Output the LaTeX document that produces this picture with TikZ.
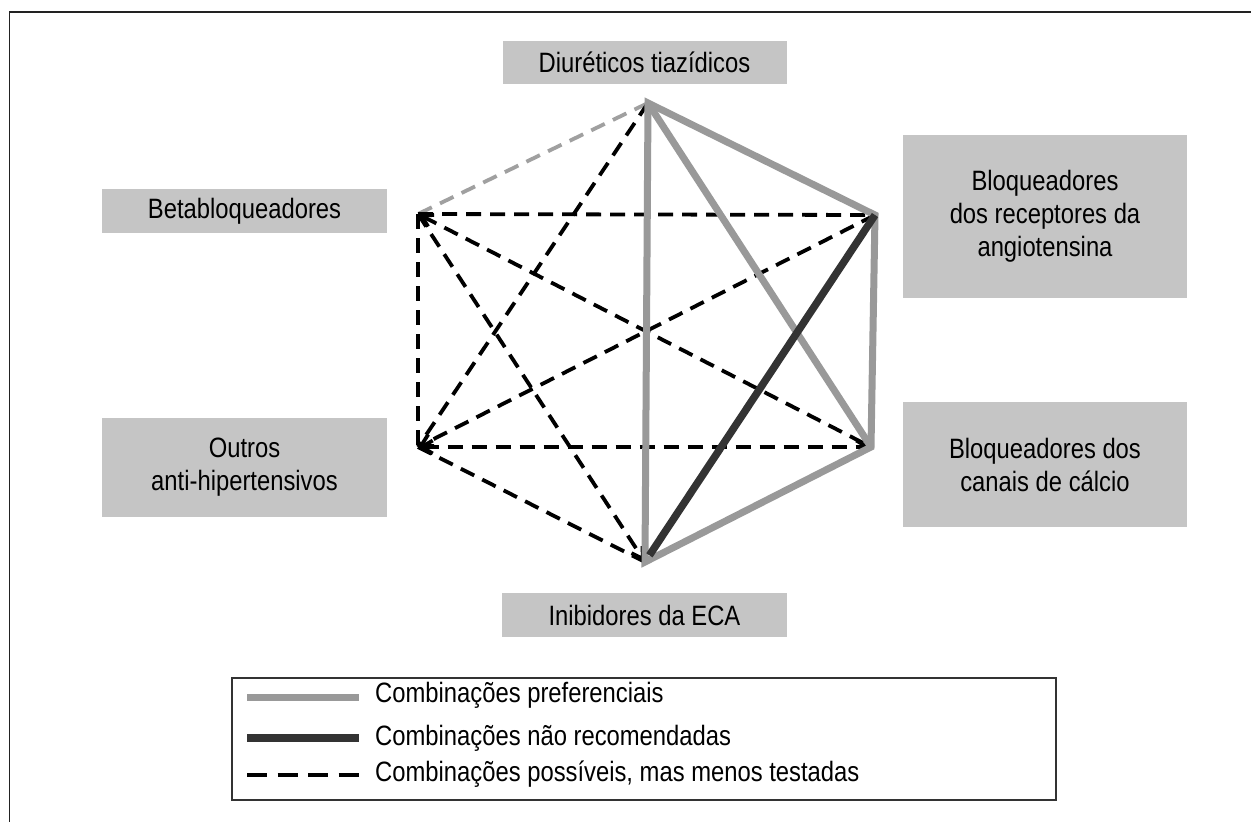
\documentclass[tikz,border=0pt]{standalone}
\usepackage{fontspec}
\setmainfont{Liberation Sans}
\newfontfamily\narrowfont{Liberation Sans}[FakeStretch=0.85]
\usetikzlibrary{arrows.meta}
\definecolor{boxgray}{HTML}{C5C5C5}
\definecolor{prefgray}{HTML}{999999}
\definecolor{darkline}{HTML}{333333}
\definecolor{dashgray}{HTML}{A0A0A0}
\definecolor{framec}{HTML}{222222}
\begin{document}
\begin{tikzpicture}[x=1pt,y=-1pt,
  box/.style={fill=boxgray, inner sep=0pt, align=center, font=\narrowfont\fontsize{28}{33}\selectfont},
  legtext/.style={anchor=west, inner sep=0pt, font=\narrowfont\fontsize{28}{33}\selectfont},
  pref/.style={draw=prefgray, line width=7pt},
  notrec/.style={draw=darkline, line width=7.5pt},
  poss/.style={draw=black, line width=3.8pt, dash pattern=on 15pt off 9pt},
  possgray/.style={poss, draw=dashgray},
  tipend/.style={-{Straight Barb[length=11pt,width=13pt]}},
  tipstart/.style={{Straight Barb[length=11pt,width=13pt]}-},
  tipboth/.style={{Straight Barb[length=11pt,width=13pt]}-{Straight Barb[length=11pt,width=13pt]}}
]
\useasboundingbox (0,0) rectangle (1251,822);
\fill[white] (0,0) rectangle (1251,822);
% frame (top and left only)
\draw[framec, line width=1.5pt] (9.5,822) -- (9.5,12) -- (1251,12);

% label boxes
\node[box, minimum width=284pt, minimum height=43pt] (diur) at (644.5,62.5) {Diuréticos tiazídicos};
\node[box, minimum width=285pt, minimum height=44pt] (beta) at (244.5,211) {Betabloqueadores};
\node[box, minimum width=284pt, minimum height=163pt] (arb) at (1045,216.5) {Bloqueadores\\dos receptores da\\angiotensina};
\node[box, minimum width=284pt, minimum height=125pt] (bcc) at (1045,464.5) {Bloqueadores dos\\canais de cálcio};
\node[box, minimum width=285pt, minimum height=99pt] (outros) at (244.5,467.5) {Outros\\anti-hipertensivos};
\node[box, minimum width=285pt, minimum height=44pt] (eca) at (644.5,615) {Inibidores da ECA};

% hexagon vertices
\coordinate (vD) at (648,103);
\coordinate (vARB) at (875,215);
\coordinate (vBCC) at (871,447);
\coordinate (vECA) at (645,562);
\coordinate (vOut) at (418,447);
\coordinate (vBeta) at (418,214);

% possible combinations (dashed)
\draw[possgray] (vD) -- (vBeta);
\draw[poss] (vD) -- (vOut);
\draw[poss] (vBeta) -- (vARB);
\draw[poss] (vBeta) -- (vOut);
\draw[poss, tipstart] (vBeta) -- (vBCC);
\draw[poss, tipend] (vBeta) -- (vECA);
\draw[poss, tipend] (vARB) -- (vOut);
\draw[poss, tipboth] (vOut) -- (vBCC);
\draw[poss] (vOut) -- (vECA);

% preferred combinations
\draw[pref, line join=miter] (vD) -- (vARB) -- (vBCC) -- (vECA) -- cycle;
\draw[pref] (vD) -- (vBCC);

% not recommended
\draw[notrec, shorten >=8pt] (vARB) -- (vECA);

% legend
\node[draw=darkline, line width=2pt, minimum width=824pt, minimum height=122pt, inner sep=0pt] (legend) at (644,739) {};
\coordinate (a1) at (247,697); \coordinate (b1) at (359,697);
\coordinate (a2) at (247,738); \coordinate (b2) at (359,738);
\coordinate (a3) at (247,775); \coordinate (b3) at (359,775);
\draw[pref] (a1) -- (b1);
\draw[notrec, line width=8pt] (a2) -- (b2);
\draw[black, line width=4.5pt, dash pattern=on 20pt off 10.5pt] (a3) -- (b3);
\node[legtext] (t1) at (375,695) {Combinações preferenciais};
\node[legtext] (t2) at (375,738) {Combinações não recomendadas};
\node[legtext] (t3) at (375,774) {Combinações possíveis, mas menos testadas};
\end{tikzpicture}
\end{document}
